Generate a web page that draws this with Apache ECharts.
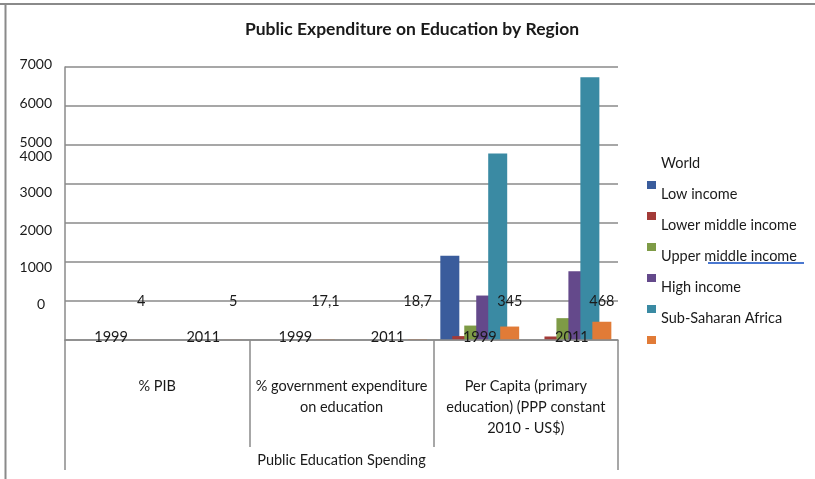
<!DOCTYPE html>
<html>
<head>
<meta charset="utf-8">
<script src="https://cdn.jsdelivr.net/npm/echarts@6/dist/echarts.min.js"></script>
<style>
  html, body { margin: 0; padding: 0; background: #ffffff; }
  #chart { width: 815px; height: 479px; }
</style>
</head>
<body>
<div id="chart"></div>
<script>
// Category labels: year per bar slot, the three spending measures, and the section name
const years = ['1999', '2011', '1999', '2011', '1999', '2011'];
const measures = [
  '% PIB',
  '% government expenditure\non education',
  'Per Capita (primary\neducation) (PPP constant\n2010 - US$)'
];
const section = ['Public Education Spending'];
const yTickLabels = ['0', '1000', '2000', '3000', '4000', '5000', '6000', '7000'];

// Series values per slot (1999/2011 for each measure)
const lowIncome   = [null, null, null, null, 2160, null];
const lowerMiddle = [null, null, null, null, 100, 90];
const upperMiddle = [null, null, null, null, 370, 560];
const highIncome  = [null, null, null, null, 1140, 1760];
const subSaharan  = [null, null, null, null, 4780, 6740];
const world       = [4, 5, 17.1, 18.7, 345, 468];

const FONT = 'Lato';
const TEXT = '#1a1a1a';
const GRAY = '#8a8a8a';

const fmtComma = v => String(v).replace('.', ',');

// Tick label lift (px above its gridline), lowest tick first
const tickLift = [36, 34, 32, 31, 28, 3, 3, 3];
const yRich = {};
tickLift.forEach((lift, i) => {
  yRich['t' + i] = {
    fontFamily: FONT, fontSize: 14, color: TEXT,
    padding: [0, i === 0 ? 7 : 0, lift * 2, 0]
  };
});

const chart = echarts.init(document.getElementById('chart'), null, { renderer: 'canvas' });

const barSeries = (name, data, color) => ({
  name, type: 'bar', data,
  xAxisIndex: 0, yAxisIndex: 0,
  barWidth: 19, barGap: '-37%',
  itemStyle: { color },
  emphasis: { disabled: true },
  silent: true
});

chart.setOption({
  animation: false,
  backgroundColor: '#ffffff',
  textStyle: { fontFamily: FONT },
  title: {
    text: 'Public Expenditure on Education by Region',
    left: 407, top: 14, textAlign: 'center',
    textStyle: { fontFamily: FONT, fontWeight: 'bold', fontSize: 17.5, lineHeight: 20, color: TEXT }
  },
  legend: [
    {
      // names column
      data: ['World', 'Low income', 'Lower middle income', 'Upper middle income', 'High income', 'Sub-Saharan Africa'],
      orient: 'vertical', left: 651, top: 151,
      icon: 'none', itemWidth: 0, itemHeight: 14, itemGap: 16,
      selectedMode: false,
      textStyle: { fontFamily: FONT, fontSize: 14.5, lineHeight: 14, color: TEXT }
    },
    {
      // colour keys column
      data: ['Low income', 'Lower middle income', 'Upper middle income', 'High income', 'Sub-Saharan Africa', 'World'],
      orient: 'vertical', left: 642, top: 176,
      icon: 'rect', itemWidth: 9, itemHeight: 8, itemGap: 23,
      selectedMode: false,
      formatter: () => '',
      textStyle: { fontSize: 8, lineHeight: 8 }
    }
  ],
  grid: { left: 65, right: 197, top: 67, bottom: 139, outerBoundsMode: 'none' },
  xAxis: [
    {
      type: 'category', data: years, position: 'bottom', z: 5,
      axisLine: { show: true, lineStyle: { color: GRAY, width: 1.5 } },
      axisTick: { show: false },
      axisLabel: { interval: 0, margin: -3, verticalAlign: 'middle', fontFamily: FONT, fontSize: 14.5, color: TEXT }
    },
    {
      // World values shown along the 1000 line
      type: 'category', data: world.map(fmtComma), position: 'bottom', offset: -39, z: 5,
      axisLine: { show: false }, axisTick: { show: false },
      axisLabel: { interval: 0, margin: 0, verticalAlign: 'middle', padding: [0, 0, 0, 60], fontFamily: FONT, fontSize: 14.5, color: TEXT }
    },
    {
      type: 'category', data: measures, position: 'bottom',
      axisLine: { show: false },
      axisTick: { show: true, interval: 0, length: 107, lineStyle: { color: GRAY, width: 1.5 } },
      axisLabel: { interval: 0, margin: 36, lineHeight: 21, fontFamily: FONT, fontSize: 14.5, color: TEXT }
    },
    {
      type: 'category', data: section, position: 'bottom',
      axisLine: { show: false },
      axisTick: { show: true, interval: 0, length: 130, lineStyle: { color: GRAY, width: 1.5 } },
      axisLabel: { interval: 0, margin: 112, lineHeight: 17, fontFamily: FONT, fontSize: 14.5, color: TEXT }
    }
  ],
  yAxis: {
    type: 'value', min: 0, max: 7000, interval: 1000,
    axisLine: { show: true, lineStyle: { color: GRAY, width: 1.5 } },
    axisTick: { show: false },
    splitLine: { show: true, lineStyle: { color: GRAY, width: 1.5 } },
    axisLabel: {
      margin: 13,
      formatter: v => {
        const i = Math.round(v / 1000);
        return '{t' + i + '|' + yTickLabels[i] + '}';
      },
      rich: yRich
    }
  },
  series: [
    barSeries('Low income', lowIncome, '#3a5c9c'),
    barSeries('Lower middle income', lowerMiddle, '#a33b38'),
    barSeries('Upper middle income', upperMiddle, '#7e9b46'),
    barSeries('High income', highIncome, '#64498b'),
    barSeries('Sub-Saharan Africa', subSaharan, '#3a8aa3'),
    barSeries('World', world, '#e17b37')
  ],
  graphic: [
    { type: 'line', shape: { x1: 0, y1: 4, x2: 815, y2: 4 }, style: { stroke: GRAY, lineWidth: 2 }, silent: true },
    { type: 'line', shape: { x1: 5.5, y1: 4, x2: 5.5, y2: 479 }, style: { stroke: GRAY, lineWidth: 2 }, silent: true },
    { type: 'line', shape: { x1: 708, y1: 263, x2: 804, y2: 263 }, style: { stroke: '#4a78d0', lineWidth: 2 }, silent: true }
  ]
});
</script>
</body>
</html>
